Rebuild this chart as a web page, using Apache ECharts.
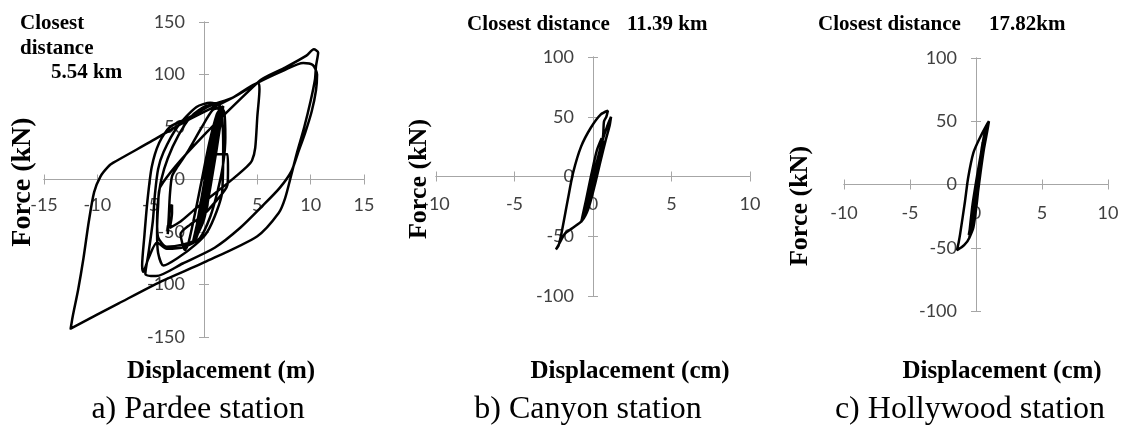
<!DOCTYPE html>
<html>
<head>
<meta charset="utf-8">
<script src="https://cdn.jsdelivr.net/npm/echarts@6/dist/echarts.min.js"></script>
<style>
  html, body { margin: 0; padding: 0; background: #ffffff; }
  #chart { width: 1121px; height: 428px; }
</style>
</head>
<body>
<div id="chart"></div>
<script>
// Force-displacement hysteresis traces, [displacement, force (kN)]
const pardeeLoop = [
  [0,0],[0.9,45],[1.5,64],[1.3,55],[0.6,10],[-0.3,-35],[-0.8,-54],[-0.5,-40],[0.3,10],[1.2,58],[1.7,69],
  [1.5,50],[0.8,5],[0,-38],[-1.0,-60],[-0.7,-45],[-0.1,-10],[0.6,30],[1.4,62],[1.8,70],[1.6,55],[1.0,24],
  [2.2,24],[2.25,10],[2.2,-5],[1.0,-22],[-0.2,-35],[-1.3,-43],[-2.2,-52],[-2.0,-62],[-1.8,-67],[-1.5,-62],
  [-1.0,-40],[-0.3,-5],[0.5,35],[1.2,62],[1.6,68],[1.3,45],[0.5,0],[-0.2,-35],[-0.8,-57],
  [-2,-62],[-3.5,-64],[-4.3,-55],[-4.4,-40],[-4.3,-20],[-4.0,0],[-3.4,20],[-2.4,42],[-1.2,60],[0.2,70],
  [1.3,71],[1.9,64],[2.0,40],[1.8,15],[1.3,-10],[0.6,-35],[-0.4,-56],[-1.8,-64],[-3.5,-66],[-4.4,-60],
  [-5.2,-75],[-5.7,-88],[-5.8,-82],[-5.6,-55],[-5.3,-20],[-4.9,12],[-4.2,35],[-3.2,50],[-1.6,58],[0.5,70],
  [2.7,78],[5,92],[7.5,104],[9.3,111],[10.2,109],[10.6,100],[10.5,85],[10.1,65],[9.5,45],[8.8,25],[8.2,8],
  [7.1,-8],[5.5,-25],[3.4,-46],[1,-65],[-2,-80],[-4.5,-92],[-5.5,-90],
  [-5.2,-70],[-4.8,-40],[-4.6,-14],[-4.3,10],[-3.8,26],[-2.5,50],[-0.7,69],[0.6,73],[1.5,69],[1.8,33],
  [1.7,-12],[1.2,-30],[0.3,-50],[-0.8,-62],[-2.5,-75],[-3.8,-82],[-4.3,-70],[-4.4,-50],[-4.3,-25],[-4.1,-7],
  [5.1,93],[7.5,106],[9.6,118],[10.3,124],[10.7,121],[10.5,108],[10.4,95],[10.0,75],[9.4,50],[8.7,25],
  [8.2,5],[7.6,-18],[7.0,-32],[5,-54],[0,-79],[-4,-97],[-8,-118],[-12.5,-142],[-12.3,-130],[-11.8,-105],
  [-11.3,-75],[-10.8,-40],[-10.3,-12],[-9.7,3],[-9,12],[-8.5,16],[-5,36],[-1.6,56],[2.7,78],[5.1,92],
  [5.2,86],[5.0,60],[4.8,30],[4.5,18],[4,12],[2.4,-2],[-0.7,-27],[-2.2,-40],[-3.2,-46],
  [-3.0,-32],[-3.0,-24],[-3.2,-28],[-3.3,-40],[-3.4,-52],[-3.3,-35],[-3.2,-15],[-3.0,3],[-2.5,12],
  [-1.5,27],[-0.2,50],[0.8,66],[1.4,68],[1.3,50],[0.8,15],[0.1,-25],[-0.5,-50],[-1.0,-58],[-0.6,-40],
  [0,-10],[0.6,25],[1.2,55],[1.5,64],[1.2,40],[0.5,-5],[-0.2,-40],[-0.7,-55],[-0.3,-30],[0.3,5],[1.0,40],
  [1.4,60],[1.1,35],[0.4,-10],[-0.3,-42],[0,-15],[0.6,25],[1.1,50],[0.9,35],[0.3,0]
];

const canyonLoop = [
  [0,0],[0.3,12],[0.6,28],[0.5,22],[0.1,0],[-0.3,-18],[-0.6,-30],[-0.4,-22],[0,-3],[0.4,18],[0.7,30],
  [0.55,20],[0.1,-3],[-0.35,-25],[-0.7,-35],[-0.5,-25],[-0.1,-5],[0.3,15],[0.65,27],[0.4,10],[0,-10],
  [-0.4,-28],[-0.75,-38],[-0.45,-20],[-0.1,2],[0.25,22],[0.55,32],[0.45,18],[0.05,-5],[-0.3,-25],
  [-0.65,-36],[-0.3,-15],[0.2,10],[0.6,30],[0.9,42],[1.15,50],[1.05,42],[0.8,30],[0.5,14],
  [0.1,-8],[-0.3,-27],[-0.7,-37],[-1.3,-43],[-1.8,-48],[-2.1,-55],[-2.36,-61],[-2.2,-58],[-2.0,-47],
  [-1.6,-19],[-1.27,3],[-0.76,25],[-0.13,41],[0.5,52],[0.95,55],[0.85,50],[0.7,46],[0.65,35],[0.5,20],
  [0.1,-3],[-0.3,-22],[-0.6,-33],[-0.3,-20],[0.1,0],[0.5,20],[0.6,25]
];

const hollywoodLoop = [
  [0,0],[0.25,15],[0.45,30],[0.35,20],[0.05,0],[-0.2,-18],[-0.45,-35],[-0.3,-25],[0,-5],[0.3,18],[0.5,33],
  [0.4,22],[0.1,2],[-0.2,-20],[-0.55,-40],[-0.35,-28],[-0.05,-8],[0.25,14],[0.45,28],[0.3,12],[0,-8],
  [-0.3,-28],[-0.5,-38],[-0.25,-15],[0.1,8],[0.4,26],[0.6,38],[0.8,45],
  [0.98,50],[0.85,42],[0.6,28],[0.35,10],[0.1,-10],[-0.15,-30],[-0.5,-42],[-0.9,-48],[-1.44,-52],[-1.3,-45],
  [-1.2,-39],[-0.83,-13],[-0.6,5],[-0.2,25],[0.3,37],[0.8,47],[0.98,50],[0.8,40],[0.55,27],[0.3,9],
  [0.08,-13],[-0.2,-34],[-0.5,-42],[-0.3,-25],[0,-5],[0.3,15]
];

// Axis ranges and tick spacing per panel
const dispRanges = [[-15, 15], [-10, 10], [-10, 10]];
const forceRanges = [[-150, 150], [-100, 100], [-100, 100]];
const dispStep = 5;
const forceStep = 50;

const axisGrey = '#a6a6a6';
const labelFont = 'Lato';
const serif = '"Liberation Serif", "Times New Roman", serif';

const panelBoxes = [
  { left: 44, top: 22, width: 320, height: 315 },
  { left: 436, top: 57, width: 314, height: 239 },
  { left: 844, top: 58, width: 264, height: 253 }
];
const xLabelMargins = [17, 19, 20];

const grids = [];
const xAxes = [];
const yAxes = [];
const hiddenAxis = function (gi) {
  return { gridIndex: gi, type: 'value', min: 0, max: 1, show: false };
};
const tickLabel = { color: '#404040', fontFamily: labelFont, fontSize: 18, showMinLabel: true, showMaxLabel: true };

// The axes cross at the origin with ticks on both sides: each axis is drawn
// twice, on the edge of a half-panel grid that meets the zero line.
function addGrid(rect, xAxis, yAxis) {
  const gi = grids.length;
  grids.push(Object.assign({ containLabel: false, outerBoundsMode: 'none' }, rect));
  xAxes.push(xAxis ? Object.assign({ gridIndex: gi }, xAxis) : hiddenAxis(gi));
  yAxes.push(yAxis ? Object.assign({ gridIndex: gi }, yAxis) : hiddenAxis(gi));
  return gi;
}

const dataGrids = [];
panelBoxes.forEach(function (b, i) {
  const xr = dispRanges[i], yr = forceRanges[i];
  const zx = b.left + b.width * (0 - xr[0]) / (xr[1] - xr[0]);
  const zy = b.top + b.height * (yr[1] - 0) / (yr[1] - yr[0]);
  const xBase = { type: 'value', min: xr[0], max: xr[1], interval: dispStep, splitLine: { show: false },
                  axisLine: { show: true, onZero: false, lineStyle: { color: axisGrey, width: 1 } } };
  const yBase = { type: 'value', min: yr[0], max: yr[1], interval: forceStep, splitLine: { show: false },
                  axisLine: { show: true, onZero: false, lineStyle: { color: axisGrey, width: 1 } } };

  // horizontal axis: labels + downward ticks
  addGrid({ left: b.left, width: b.width, top: b.top, height: zy - b.top },
    Object.assign({}, xBase, { position: 'bottom',
      axisTick: { show: true, length: 5, lineStyle: { color: axisGrey } },
      axisLabel: Object.assign({ margin: xLabelMargins[i] }, tickLabel) }), null);
  // horizontal axis: upward ticks
  addGrid({ left: b.left, width: b.width, top: zy, height: b.top + b.height - zy },
    Object.assign({}, xBase, { position: 'top',
      axisTick: { show: true, length: 5, lineStyle: { color: axisGrey } },
      axisLabel: { show: false } }), null);
  // vertical axis: labels + leftward ticks
  addGrid({ left: zx, width: b.left + b.width - zx, top: b.top, height: b.height }, null,
    Object.assign({}, yBase, { position: 'left',
      axisTick: { show: true, length: 5, lineStyle: { color: axisGrey } },
      axisLabel: Object.assign({ margin: 19 }, tickLabel) }));
  // vertical axis: rightward ticks
  addGrid({ left: b.left, width: zx - b.left, top: b.top, height: b.height }, null,
    Object.assign({}, yBase, { position: 'right',
      axisTick: { show: true, length: 5, lineStyle: { color: axisGrey } },
      axisLabel: { show: false } }));
  // plotting grid for the trace
  dataGrids.push(addGrid({ left: b.left, width: b.width, top: b.top, height: b.height },
    Object.assign({}, xBase, { show: false }), Object.assign({}, yBase, { show: false })));
});

const traces = [pardeeLoop, canyonLoop, hollywoodLoop];
const series = traces.map(function (d, i) {
  return {
    type: 'line', xAxisIndex: dataGrids[i], yAxisIndex: dataGrids[i], data: d,
    showSymbol: false, smooth: 0.25, animation: false, z: 5,
    lineStyle: { color: '#000000', width: 2.5 }
  };
});

function txt(text, x, y, size, bold, align, rot) {
  return {
    type: 'text', x: x, y: y, rotation: rot || 0, silent: true, z: 10,
    style: {
      text: text, fill: '#000000', fontFamily: serif, fontSize: size,
      fontWeight: bold ? 'bold' : 'normal', align: align || 'center', verticalAlign: 'middle'
    }
  };
}

const graphics = [
  txt('Closest', 20, 24, 21, true, 'left'),
  txt('distance', 20, 49, 21, true, 'left'),
  txt('5.54 km', 51, 73, 21, true, 'left'),
  txt('Closest distance', 467, 25, 21, true, 'left'),
  txt('11.39 km', 627, 25, 21, true, 'left'),
  txt('Closest distance', 818, 25, 21, true, 'left'),
  txt('17.82km', 989, 25, 21, true, 'left'),
  txt('Force (kN)', 23, 182, 28, true, 'center', Math.PI / 2),
  txt('Force (kN)', 419, 179, 26, true, 'center', Math.PI / 2),
  txt('Force (kN)', 800, 206, 26, true, 'center', Math.PI / 2),
  txt('Displacement (m)', 221, 372, 25, true),
  txt('Displacement (cm)', 630, 372, 25, true),
  txt('Displacement (cm)', 1002, 372, 25, true),
  txt('a) Pardee station', 198, 410, 32, false),
  txt('b) Canyon station', 588, 410, 32, false),
  txt('c) Hollywood station', 970, 410, 32, false)
];

const chart = echarts.init(document.getElementById('chart'), null, { renderer: 'canvas' });
chart.setOption({
  backgroundColor: '#ffffff',
  animation: false,
  grid: grids,
  xAxis: xAxes,
  yAxis: yAxes,
  series: series,
  graphic: graphics
});
</script>
</body>
</html>
